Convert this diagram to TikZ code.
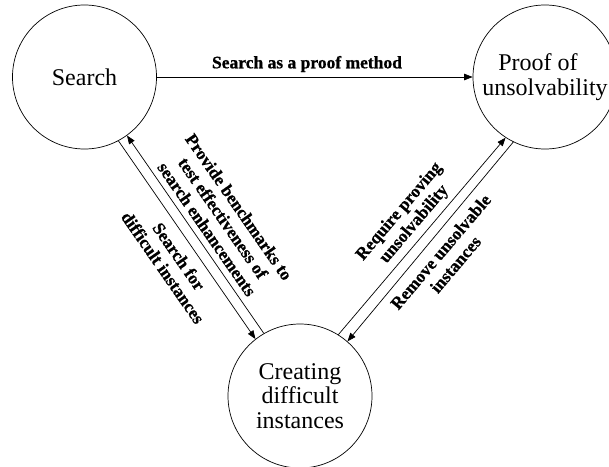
\documentclass[tikz,border=0pt]{standalone}
\usepackage{fontspec}
\setmainfont{Liberation Serif}[BoldFeatures={FakeBold=0.8}]
\usetikzlibrary{arrows.meta}
\begin{document}
\begin{tikzpicture}[x=1pt,y=-1pt,
  state/.style={circle, draw, line width=0.7pt, minimum size=144pt, inner sep=0pt, align=center, font=\fontsize{24}{24.5}\selectfont},
  lbl/.style={align=center, font=\bfseries\fontsize{17.5}{19.5}\selectfont, inner sep=0pt},
  conn/.style={line width=0.7pt, -{Triangle[length=8.5pt,width=6.5pt]}}]
\useasboundingbox (0,0) rectangle (609,466);
\node[state] (s) at (84.5,77) {Search};
\node[state] (p) at (545,77) {Proof of\hspace*{14pt}\\unsolvability};
\node[state] (c) at (300,396) {Creating\\difficult\\instances};
\draw[conn] (s) -- (p);
\node[lbl] (t1) at (307,64) {Search as a proof method};
\draw[conn] (s.-62.4) -- (c.128.2);
\draw[conn] (c.120.7) -- (s.-54.6);
\draw[conn] (c.58) -- (p.-123.7);
\draw[conn] (p.-116.6) -- (c.49.7);
\node[lbl, rotate=-55.2] (t2) at (223,218) {Provide benchmarks to\\test effectiveness of\\search enhancements};
\node[lbl, rotate=-55.2] (t3) at (171,262) {Search for\\difficult instances};
\node[lbl, rotate=49.7] (t4) at (407,218) {Require proving\\unsolvability};
\node[lbl, rotate=49.7] (t5) at (448,258) {Remove unsolvable\\instances};
\end{tikzpicture}
\end{document}
